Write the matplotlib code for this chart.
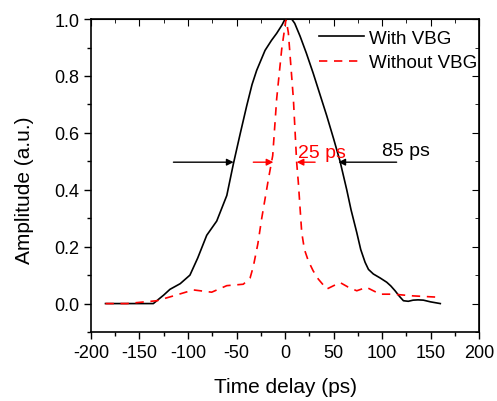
import numpy as np
import matplotlib
matplotlib.use("Agg")
import matplotlib.pyplot as plt
from matplotlib.ticker import MultipleLocator

plt.rcParams['font.family'] = ['Liberation Sans', 'DejaVu Sans']
plt.rcParams['axes.unicode_minus'] = False

# with VBG (black solid)
t_vbg = [-185, -150, -135.7, -125, -118.6, -108, -98, -90, -80.7, -70.4, -60, -53.3, -46,
         -39.5, -34, -29.2, -20.6, -14, -8.6, -3, 0, 6.9, 10, 15.5, 22, 29, 36, 43, 50,
         56.7, 63.6, 68, 73.9, 78, 82.5, 86, 91, 98, 104.8, 109, 113.4, 118, 122, 127,
         132, 137, 142.6, 150, 160]
a_vbg = [0.0, 0.0, 0.0, 0.03, 0.05, 0.07, 0.10, 0.16, 0.24, 0.29, 0.38, 0.49, 0.60,
         0.695, 0.77, 0.82, 0.89, 0.925, 0.95, 0.98, 1.0, 1.0, 0.985, 0.94, 0.88, 0.81,
         0.735, 0.66, 0.58, 0.50, 0.40, 0.33, 0.25, 0.19, 0.145, 0.12, 0.104, 0.09, 0.075,
         0.062, 0.045, 0.025, 0.01, 0.008, 0.012, 0.013, 0.012, 0.006, 0.0]

# without VBG (red dashed)
t_no = [-185, -163, -132, -115, -94.5, -75.6, -60, -43, -36, -32.7, -28, -24, -17, -12.7,
        -8.6, -3.4, 1, 3.4, 8.6, 12, 13.7, 17.2, 20, 24, 29, 34.3, 43, 56.7, 65, 73.9,
        84, 98, 111.6, 132, 160]
a_no = [0.0, 0.0, 0.01, 0.027, 0.048, 0.04, 0.063, 0.068, 0.09, 0.13, 0.21, 0.30, 0.44,
        0.52, 0.72, 0.895, 1.0, 0.953, 0.72, 0.496, 0.426, 0.25, 0.19, 0.15, 0.115, 0.086,
        0.051, 0.074, 0.058, 0.045, 0.057, 0.033, 0.033, 0.027, 0.022]

fig = plt.figure(figsize=(4.97, 4.02), dpi=100)
ax = fig.add_axes([0.183, 0.1716, 0.781, 0.7784])

ax.plot(t_vbg, a_vbg, color='black', lw=1.2, label='With VBG')
ax.plot(t_no, a_no, color='red', lw=1.2, ls=(0, (5, 4)), label='Without VBG')

# FWHM arrows
arr_k = dict(arrowstyle='-|>', color='black', lw=1, mutation_scale=10, shrinkA=0, shrinkB=0)
arr_r = dict(arrowstyle='-|>', color='red', lw=1, mutation_scale=10, shrinkA=0, shrinkB=0)
ax.annotate('', xy=(-53, 0.497), xytext=(-115, 0.497), arrowprops=arr_k)
ax.annotate('', xy=(55, 0.497), xytext=(115, 0.497), arrowprops=arr_k)
ax.annotate('', xy=(-12, 0.497), xytext=(-32.7, 0.497), arrowprops=arr_r)
ax.annotate('', xy=(12, 0.497), xytext=(31, 0.497), arrowprops=arr_r)
ax.text(100, 0.537, '85 ps', fontsize=14, va='center', ha='left')
ax.text(13.5, 0.532, '25 ps', fontsize=14, va='center', ha='left', color='red')

ax.set_xlim(-200, 200)
ax.set_ylim(-0.1, 1.0)
ax.xaxis.set_major_locator(MultipleLocator(50))
ax.xaxis.set_minor_locator(MultipleLocator(25))
ax.yaxis.set_major_locator(MultipleLocator(0.2))
ax.yaxis.set_minor_locator(MultipleLocator(0.1))
ax.yaxis.set_major_formatter(plt.FormatStrFormatter('%.1f'))
ax.tick_params(which='both', direction='out', labelsize=13, width=1)
ax.tick_params(which='major', length=5)
ax.tick_params(which='minor', length=3)

# mirrored ticks on top/right pointing inward
ax2 = ax.secondary_xaxis('top')
ax2.xaxis.set_major_locator(MultipleLocator(50))
ax2.xaxis.set_minor_locator(MultipleLocator(25))
ax2.tick_params(which='both', direction='in', labeltop=False)
ax2.tick_params(which='major', length=5)
ax2.tick_params(which='minor', length=3)
ax3 = ax.secondary_yaxis('right')
ax3.yaxis.set_major_locator(MultipleLocator(0.2))
ax3.yaxis.set_minor_locator(MultipleLocator(0.1))
ax3.tick_params(which='both', direction='in', labelright=False)
ax3.tick_params(which='major', length=5)
ax3.tick_params(which='minor', length=3)

for s in ax.spines.values():
    s.set_linewidth(1.2)

ax.set_xlabel('Time delay (ps)', fontsize=15, labelpad=12)
ax.set_ylabel('Amplitude (a.u.)', fontsize=15)
ax.yaxis.set_label_coords(-0.148, 0.457)

ax.legend(loc='upper right', frameon=False, fontsize=13.5, handlelength=2.4,
          handletextpad=0.3, borderaxespad=0.0, labelspacing=0.4,
          bbox_to_anchor=(1.015, 0.99))

fig.savefig('out.png', dpi=100)
